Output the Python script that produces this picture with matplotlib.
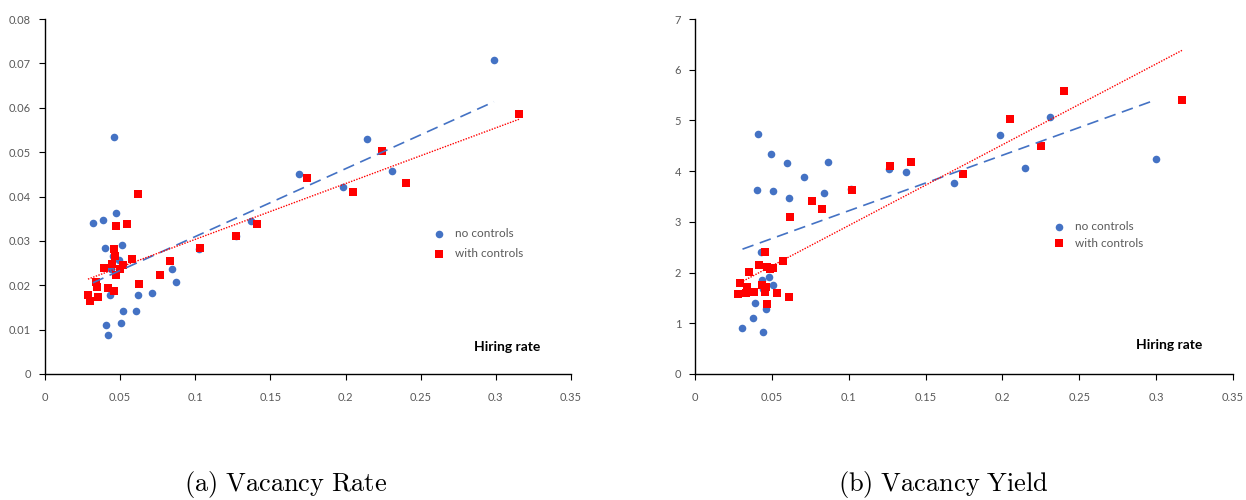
import numpy as np
import matplotlib
matplotlib.use("Agg")
import matplotlib.pyplot as plt

# ---------- data (a) Vacancy Rate ----------
rate_nc_x = [0.0318, 0.0385, 0.0470, 0.0399, 0.0514, 0.0452, 0.0492, 0.0439, 0.0434, 0.0616,
             0.0714, 0.0847, 0.0869, 0.0516, 0.0603, 0.0407, 0.0503, 0.0416, 0.1025, 0.0456,
             0.2140, 0.2987, 0.1692, 0.1983, 0.2312, 0.1373, 0.1268]
rate_nc_y = [0.0341, 0.0346, 0.0362, 0.0283, 0.0290, 0.0267, 0.0257, 0.0236, 0.0179, 0.0177,
             0.0183, 0.0236, 0.0207, 0.0143, 0.0143, 0.0111, 0.0116, 0.0087, 0.0281, 0.0533,
             0.0530, 0.0707, 0.0450, 0.0421, 0.0457, 0.0345, 0.0312]
rate_wc_x = [0.0620, 0.0470, 0.0543, 0.0461, 0.0467, 0.0578, 0.0443, 0.0392, 0.0516, 0.0496,
             0.0472, 0.0341, 0.0343, 0.0421, 0.0461, 0.0627, 0.0286, 0.0354, 0.0301, 0.1029,
             0.0831, 0.0763, 0.1273, 0.1411, 0.1744, 0.2052, 0.2243, 0.2400, 0.3157]
rate_wc_y = [0.0405, 0.0334, 0.0337, 0.0282, 0.0267, 0.0259, 0.0249, 0.0240, 0.0245, 0.0237,
             0.0222, 0.0208, 0.0197, 0.0194, 0.0188, 0.0202, 0.0179, 0.0173, 0.0164, 0.0283,
             0.0255, 0.0223, 0.0310, 0.0337, 0.0442, 0.0410, 0.0502, 0.0430, 0.0587]

# ---------- data (b) Vacancy Yield ----------
yield_nc_x = [0.0411, 0.0497, 0.0597, 0.0864, 0.0710, 0.0402, 0.0510, 0.0612, 0.0840, 0.1018,
              0.0428, 0.0437, 0.0484, 0.0510, 0.0441, 0.0393, 0.0465, 0.0378, 0.0309, 0.0441,
              0.1265, 0.1371, 0.1687, 0.1982, 0.2147, 0.2307, 0.2996]
yield_nc_y = [4.73, 4.33, 4.16, 4.18, 3.88, 3.63, 3.60, 3.47, 3.57, 3.64,
              2.41, 1.85, 1.91, 1.76, 1.68, 1.40, 1.28, 1.10, 0.91, 0.82,
              4.05, 3.98, 3.76, 4.71, 4.06, 5.06, 4.23]
yield_wc_x = [0.0454, 0.0417, 0.0350, 0.0467, 0.0491, 0.0510, 0.0573, 0.0296, 0.0337, 0.0335,
              0.0281, 0.0387, 0.0437, 0.0463, 0.0454, 0.0536, 0.0467, 0.0614, 0.0621, 0.0760,
              0.0827, 0.1024, 0.1271, 0.1408, 0.1741, 0.2051, 0.2248, 0.2398, 0.3168]
yield_wc_y = [2.41, 2.15, 2.02, 2.11, 2.07, 2.10, 2.22, 1.80, 1.71, 1.60,
              1.58, 1.62, 1.76, 1.72, 1.62, 1.60, 1.39, 1.52, 3.09, 3.41,
              3.25, 3.62, 4.11, 4.19, 3.95, 5.02, 4.49, 5.59, 5.41]

series_labels = ["no controls", "with controls"]
x_ticks = [0, 0.05, 0.1, 0.15, 0.2, 0.25, 0.3, 0.35]
x_ticklabels = ["0", "0.05", "0.1", "0.15", "0.2", "0.25", "0.3", "0.35"]
rate_yticks = [0, 0.01, 0.02, 0.03, 0.04, 0.05, 0.06, 0.07, 0.08]
rate_yticklabels = ["0", "0.01", "0.02", "0.03", "0.04", "0.05", "0.06", "0.07", "0.08"]
yield_yticks = [0, 1, 2, 3, 4, 5, 6, 7]
yield_yticklabels = ["0", "1", "2", "3", "4", "5", "6", "7"]
captions = ["(a) Vacancy Rate", "(b) Vacancy Yield"]
xlabel_text = "Hiring rate"

BLUE = "#4472C4"
RED = "#FF0000"
GRAY = "#595959"
plt.rcParams["font.family"] = ["Lato", "DejaVu Sans"]
plt.rcParams["mathtext.fontset"] = "cm"

fig = plt.figure(figsize=(12.46, 5.0), dpi=100)
ax1 = fig.add_axes([45/1246, 126/500, 526/1246, 355/500])
ax2 = fig.add_axes([695/1246, 126/500, 538/1246, 355/500])


def trend(ax, x, y, color, ls, lw):
    x = np.asarray(x); y = np.asarray(y)
    b, a = np.polyfit(x, y, 1)
    xs = np.array([x.min(), x.max()])
    ax.plot(xs, a + b * xs, color=color, linestyle=ls, linewidth=lw, zorder=3)


def panel(ax, ncx, ncy, wcx, wcy, yticks, yticklabels, ylim, leg_anchor, lblspace, hr_pos,
          caption, cap_x):
    ax.scatter(ncx, ncy, s=30, marker="o", color=BLUE, linewidths=0, zorder=2, label=series_labels[0])
    ax.scatter(wcx, wcy, s=36, marker="s", color=RED, linewidths=0, zorder=2, label=series_labels[1])
    trend(ax, ncx, ncy, BLUE, (0, (7, 4)), 1.2)
    trend(ax, wcx, wcy, RED, (0, (1, 1)), 1.0)
    ax.set_xlim(0, 0.35)
    ax.set_ylim(*ylim)
    ax.set_xticks(x_ticks)
    ax.set_xticklabels(x_ticklabels)
    ax.set_yticks(yticks)
    ax.set_yticklabels(yticklabels)
    for s in ["top", "right"]:
        ax.spines[s].set_visible(False)
    for s in ["left", "bottom"]:
        ax.spines[s].set_color("black")
        ax.spines[s].set_linewidth(1.0)
    ax.tick_params(axis="both", direction="out", length=4, width=0.8, color="black",
                   labelsize=8, labelcolor=GRAY)
    ax.tick_params(axis="x", pad=9)
    ax.tick_params(axis="y", pad=6)
    leg = ax.legend(loc="upper left", bbox_to_anchor=leg_anchor, frameon=False,
                    fontsize=8.5, handletextpad=0.3, labelspacing=lblspace,
                    borderpad=0, borderaxespad=0, scatterpoints=1)
    for t in leg.get_texts():
        t.set_color(GRAY)
    ax.text(hr_pos[0], hr_pos[1], xlabel_text, transform=ax.transAxes, fontsize=10,
            fontweight="bold", color="black", ha="left", va="center")
    fig.text(cap_x, 0.03, r"$\mathrm{" + caption.replace(" ", r"\ ") + "}$",
             ha="center", va="center", fontsize=19)


panel(ax1, rate_nc_x, rate_nc_y, rate_wc_x, rate_wc_y, rate_yticks, rate_yticklabels,
      (0, 0.08), (0.727, 0.41), 0.75, (0.815, 0.075), captions[0], 286/1246)
panel(ax2, yield_nc_x, yield_nc_y, yield_wc_x, yield_wc_y, yield_yticks, yield_yticklabels,
      (0, 7), (0.655, 0.432), 0.5, (0.82, 0.082), captions[1], 943/1246)

fig.savefig("out.png", dpi=100)
